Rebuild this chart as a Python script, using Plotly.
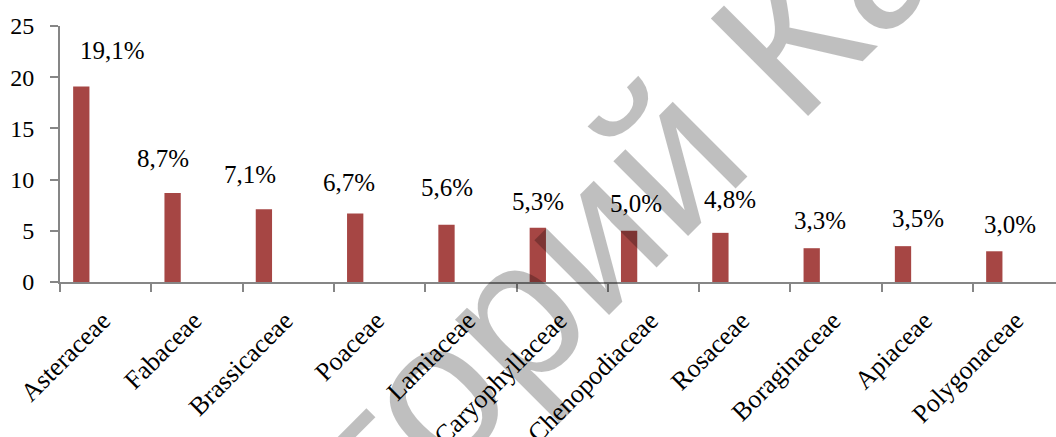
import plotly.graph_objects as go

families = ["Asteraceae", "Fabaceae", "Brassicaceae", "Poaceae", "Lamiaceae",
            "Caryophyllaceae", "Chenopodiaceae", "Rosaceae", "Boraginaceae",
            "Apiaceae", "Polygonaceae"]
shares = [19.1, 8.7, 7.1, 6.7, 5.6, 5.3, 5.0, 4.8, 3.3, 3.5, 3.0]
share_labels = ["19,1%", "8,7%", "7,1%", "6,7%", "5,6%", "5,3%", "5,0%",
                "4,8%", "3,3%", "3,5%", "3,0%"]
y_ticks = [0, 5, 10, 15, 20, 25]
watermark = "Репозиторий КарГУ"

# label placement (pixel shifts from the category centre / bar top)
label_dx = [7.1, -33.6, -37.9, -30.8, -23.4, -24.1, -17.9, -15.1, -16.2, -9.4, -8.6]
label_dy = [35.8, 34.1, 34.9, 30.4, 36.7, 25.9, 27.8, 33.2, 27.8, 27.3, 27.2]

BAR = "#A64644"
AXIS = "#868686"
FONT = "Times New Roman, Liberation Serif, serif"

fig = go.Figure()
fig.add_trace(go.Bar(
    x=families, y=shares,
    marker=dict(color=BAR, line=dict(width=0)),
    width=0.1785, offset=-0.356,
    hoverinfo="x+y",
))

for fam, val, txt, dx, dy in zip(families, shares, share_labels, label_dx, label_dy):
    fig.add_annotation(x=fam, y=val, text=txt, showarrow=False,
                       xshift=dx, yshift=dy,
                       font=dict(family=FONT, size=25, color="black"),
                       xanchor="center", yanchor="middle")

fig.add_annotation(xref="paper", yref="paper", x=0.452, y=-0.13,
                   text=watermark, showarrow=False, textangle=-45,
                   xanchor="center", yanchor="middle",
                   font=dict(family="Liberation Sans, Arial, sans-serif", size=200,
                             color="rgba(0,0,0,0.25)"))

fig.update_layout(
    width=1056, height=437,
    margin=dict(l=60, r=0, t=26, b=155, autoexpand=False),
    paper_bgcolor="white", plot_bgcolor="white",
    showlegend=False,
    font=dict(family=FONT, size=24, color="black"),
    xaxis=dict(
        type="category", range=[-0.5, 10.409], automargin=False,
        tickson="boundaries", ticks="outside", ticklen=8, tickwidth=2,
        tickcolor=AXIS, showline=True, linecolor=AXIS, linewidth=2,
        showgrid=False, tickangle=-45, ticklabelstandoff=11, ticklabelshift=-3,
        tickfont=dict(family=FONT, size=26, color="black"),
    ),
    xaxis2=dict(
        overlaying="x", anchor="y", side="bottom", automargin=False,
        range=[-0.5, 10.409], tick0=-0.5, dtick=1,
        ticks="inside", ticklen=7, tickwidth=2, tickcolor=AXIS,
        showticklabels=False, showline=False, showgrid=False, zeroline=False,
    ),
    yaxis=dict(
        range=[0, 25], tickvals=y_ticks, ticks="outside", ticklen=8,
        automargin=False,
        tickwidth=2, tickcolor=AXIS, showline=True, linecolor=AXIS,
        linewidth=2, showgrid=False, zeroline=False, ticklabelstandoff=11,
        tickfont=dict(family=FONT, size=24, color="black"),
    ),
)

fig.write_html("out.html", config={"displayModeBar": False},
               post_script="document.body.style.margin='0';"
                           "document.body.style.overflow='hidden';")
